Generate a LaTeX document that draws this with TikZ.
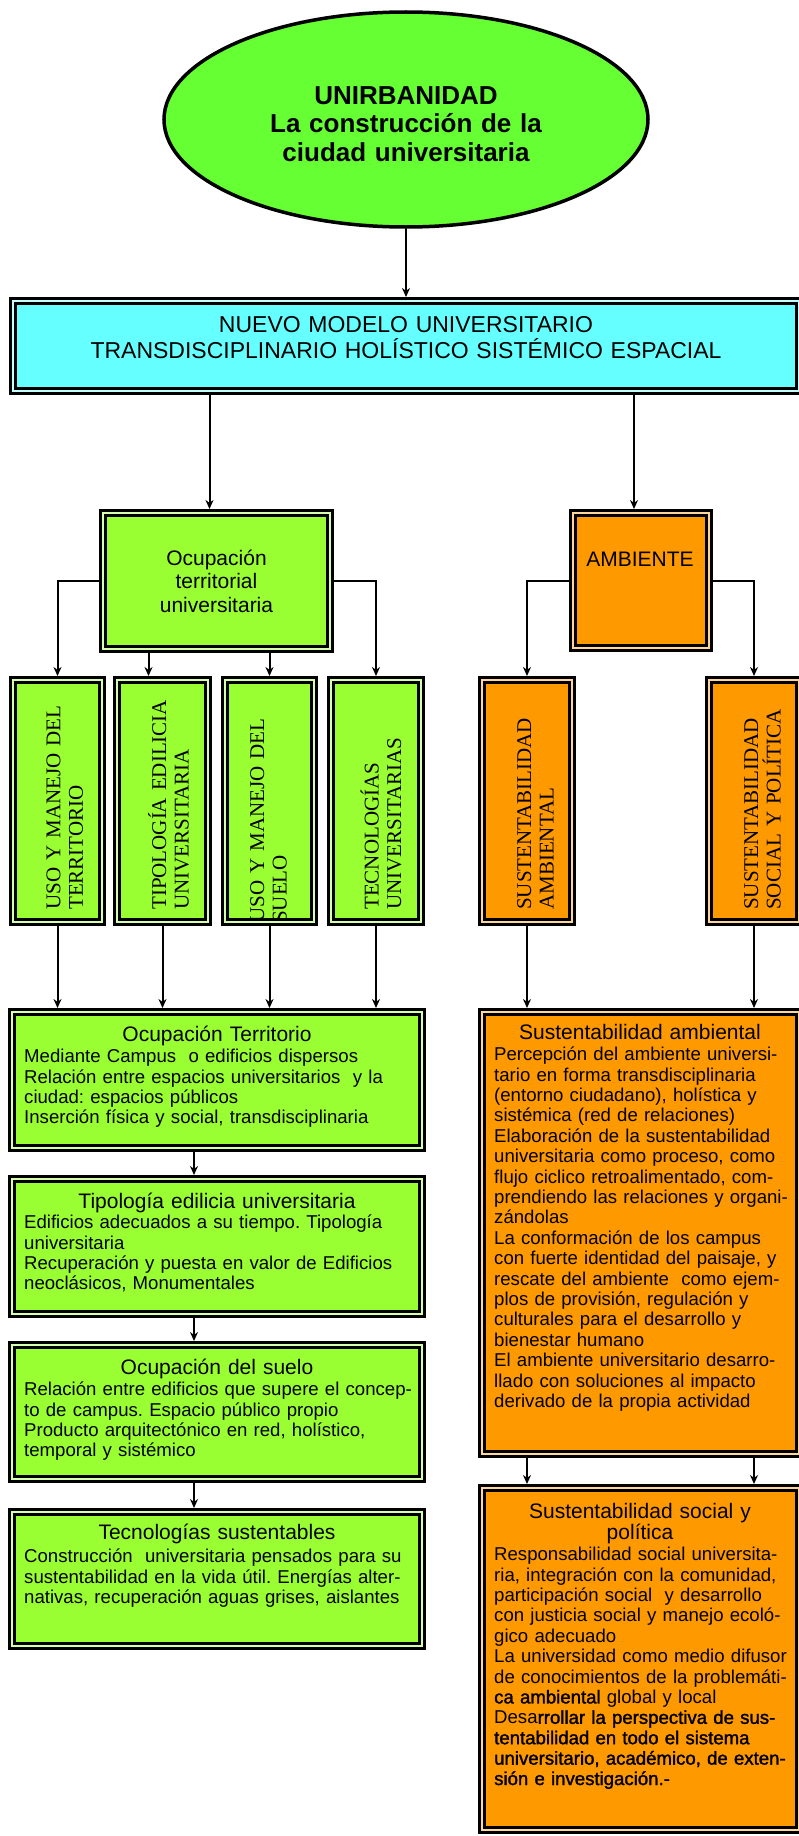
\documentclass[tikz,border=0pt]{standalone}
\usepackage{fontspec}
\setmainfont{Liberation Sans}
\newfontfamily\romana{Liberation Serif}
\newfontfamily\negrita[FakeBold=1.5]{Liberation Sans}
\usetikzlibrary{shapes.geometric,arrows.meta}
\definecolor{verdeclaro}{HTML}{66FF33}
\definecolor{lima}{HTML}{99FF33}
\definecolor{celeste}{HTML}{66FFFF}
\definecolor{naranja}{HTML}{FF9900}
\frenchspacing
\tikzset{
  caja/.style={
    draw, 
    fill=#1, 
    double=#1!40!white, 
    line width=3pt, 
    double distance=1.6pt, 
    inner sep=0pt, 
    outer sep=3.8pt
  },
  dims/.style 2 args={
    minimum width=#1pt-7.6pt, 
    minimum height=#2pt-7.6pt
  },
  enlace/.style={
    line width=2pt, 
    ->, 
    >={Stealth[length=9pt,width=8pt]}
  },
  vertical/.style={
    rotate=90, 
    anchor=base west, 
    align=left, 
    text width=240pt, 
    inner sep=0pt, 
    font=\romana\fontsize{21}{22.5}\selectfont
  },
  titulo/.style={
    anchor=base, 
    align=center, 
    text width=300pt, 
    inner sep=0pt, 
    font=\fontsize{21}{21.5}\selectfont
  },
  texto/.style={
    anchor=base west, 
    align=left, 
    text width=420pt, 
    inner sep=0pt, 
    font=\fontsize{18.6}{20.4}\selectfont
  },
}
\begin{document}
\begin{tikzpicture}[x=1pt,y=-1pt]
\useasboundingbox (0,0) rectangle (798,1836);
% cabecera
\node[ellipse, draw, fill=verdeclaro, line width=3.5pt, inner sep=0pt,
  minimum width=484pt, minimum height=215pt] (unirb) at (406,119.5) {};
\node[caja=celeste, dims={794}{98}] (modelo) at (406,346) {};
\node[caja=lima, dims={235}{144}, align=center,
  font=\fontsize{21}{23.5}\selectfont] (ocup) at (216.5,581)
  {Ocupación\\territorial\\universitaria};
\node[caja=naranja, dims={144}{143}] (amb) at (641,580.5) {};
% columnas
\node[caja=lima, dims={97}{250}] (uso1) at (57.5,801) {};
\node[caja=lima, dims={99}{250}] (uso2) at (162.5,801) {};
\node[caja=lima, dims={97}{250}] (uso3) at (269.5,801) {};
\node[caja=lima, dims={98}{250}] (uso4) at (376,801) {};
\node[caja=naranja, dims={98}{250}] (sus1) at (527,801) {};
\node[caja=naranja, dims={98}{250}] (sus2) at (754,801) {};
% detalle
\node[caja=lima, dims={418}{144}] (ocT) at (217,1080) {};
\node[caja=lima, dims={418}{143}] (tip) at (217,1246.5) {};
\node[caja=lima, dims={418}{142}] (ocS) at (217,1412) {};
\node[caja=lima, dims={418}{142}] (tec) at (217,1579) {};
\node[caja=naranja, dims={325}{450}] (susA) at (640.5,1233) {};
\node[caja=naranja, dims={325}{350}] (susS) at (640.5,1659) {};

\node[titulo, font=\bfseries\fontsize{26}{28.5}\selectfont] (unirb-t) at (406,104.4)
  {UNIRBANIDAD\\La construcción de la\\ciudad universitaria};
\node[titulo, text width=760pt, font=\fontsize{23}{26}\selectfont] (modelo-t) at (406,332.2)
  {NUEVO MODELO UNIVERSITARIO\\TRANSDISCIPLINARIO HOLÍSTICO SISTÉMICO ESPACIAL};
\node[titulo] (amb-t) at (640,566.5) {AMBIENTE};

\node[vertical] (uso1-t) at (60.4,910) {USO Y MANEJO DEL\\TERRITORIO};
\node[vertical] (uso2-t) at (166,910) {TIPOLOGÍA EDILICIA\\UNIVERSITARIA};
\begin{scope}
\clip ([xshift=7.6pt,yshift=7.6pt]uso3.south west)
  rectangle ([xshift=-7.6pt,yshift=-7.6pt]uso3.north east);
\node[vertical] (uso3-t) at (264,923) {USO Y MANEJO DEL\\SUELO};
\end{scope}
\node[vertical] (uso4-t) at (378.6,910) {TECNOLOGÍAS\\UNIVERSITARIAS};
\node[vertical] (sus1-t) at (531,910) {SUSTENTABILIDAD\\AMBIENTAL};
\node[vertical] (sus2-t) at (758,910) {SUSTENTABILIDAD\\SOCIAL Y POLÍTICA};

\node[titulo] (ocT-h) at (217,1041.3) {Ocupación Territorio};
\node[texto] (ocT-t) at (24,1062.6) {Mediante Campus\ \ o edificios dispersos\\
  Relación entre espacios universitarios\ \ y la\\
  ciudad: espacios públicos\\
  Inserción física y social, transdisciplinaria};
\node[titulo] (tip-h) at (217,1208.3) {Tipología edilicia universitaria};
\node[texto] (tip-t) at (24,1228.6) {Edificios adecuados a su tiempo. Tipología\\
  universitaria\\
  Recuperación y puesta en valor de Edificios\\
  neoclásicos, Monumentales};
\node[titulo] (ocS-h) at (217,1374.3) {Ocupación del suelo};
\node[texto] (ocS-t) at (24,1395.6) {Relación entre edificios que supere el concep-\\
  to de campus. Espacio público propio\\
  Producto arquitectónico en red, holístico,\\
  temporal y sistémico};
\node[titulo] (tec-h) at (217,1539.3) {Tecnologías sustentables};
\node[texto] (tec-t) at (24,1562.6) {Construcción\ \ universitaria pensados para su\\
  sustentabilidad en la vida útil. Energías alter-\\
  nativas, recuperación aguas grises, aislantes};
\node[titulo] (susA-h) at (640,1039.3) {Sustentabilidad ambiental};
\node[texto] (susA-t) at (494,1060.6) {Percepción del ambiente universi-\\
  tario en forma transdisciplinaria\\
  (entorno ciudadano), holística y\\
  sistémica (red de relaciones)\\
  Elaboración de la sustentabilidad\\
  universitaria como proceso, como\\
  flujo ciclico retroalimentado, com-\\
  prendiendo las relaciones y organi-\\
  zándolas\\
  La conformación de los campus\\
  con fuerte identidad del paisaje, y\\
  rescate del ambiente\ \ como ejem-\\
  plos de provisión, regulación y\\
  culturales para el desarrollo y\\
  bienestar humano\\
  El ambiente universitario desarro-\\
  llado con soluciones al impacto\\
  derivado de la propia actividad};
\node[titulo] (susS-h) at (640,1518.3) {Sustentabilidad social y\\política};
\node[texto] (susS-t) at (494,1560.6) {Responsabilidad social universita-\\
  ria, integración con la comunidad,\\
  participación social\ \ y desarrollo\\
  con justicia social y manejo ecoló-\\
  gico adecuado\\
  La universidad como medio difusor\\
  de conocimientos de la problemáti-\\
  {\negrita ca ambiental} global y local\\
  Desa{\negrita rrollar la perspectiva de sus-}\\
  {\negrita tentabilidad en todo el sistema}\\
  {\negrita universitario, académico, de exten-}\\
  {\negrita sión e investigación.-}};

% conexiones
\coordinate (m1) at ([xshift=-7pt]ocup.north);
\coordinate (m2) at ([xshift=-7pt]amb.north);
\coordinate (u2) at ([xshift=-14pt]uso2.north);
\draw[enlace] (unirb.south) -- (modelo.north);
\draw[enlace] (m1 |- modelo.south) -- (m1);
\draw[enlace] (m2 |- modelo.south) -- (m2);
\draw[enlace] (ocup.west) -| (uso1.north);
\draw[enlace] (ocup.east) -| (uso4.north);
\draw[enlace] (u2 |- ocup.south) -- (u2);
\draw[enlace] (uso3.north |- ocup.south) -- (uso3.north);
\draw[enlace] (amb.west) -| (sus1.north);
\draw[enlace] (amb.east) -| (sus2.north);
\foreach \n in {uso1,uso2,uso3,uso4}
  \draw[enlace] (\n.south) -- (\n.south |- ocT.north);
\foreach \n in {sus1,sus2}
  \draw[enlace] (\n.south) -- (\n.south |- susA.north);
\foreach \a/\b in {ocT/tip,tip/ocS,ocS/tec}
  \draw[enlace] ([xshift=-23pt]\a.south) -- ([xshift=-23pt]\b.north);
\foreach \n in {sus1,sus2}
  \draw[enlace] (susA.south -| \n.south) -- (susS.north -| \n.south);
\end{tikzpicture}
\end{document}
